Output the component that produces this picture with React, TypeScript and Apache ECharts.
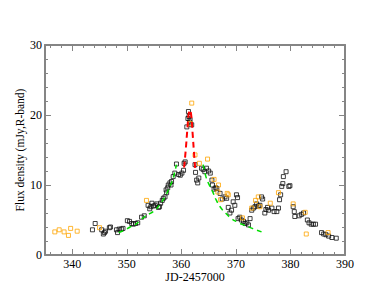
import React, { useEffect, useRef } from 'react';
import * as echarts from 'echarts';

const blackPoints: [number, number][] = [
  [343.7, 3.6], [344.2, 4.5], [345.4, 3.6], [345.7, 3.0], [345.9, 3.2], [346.1, 3.4], [346.8, 3.9], [347.0, 4.0],
  [348.1, 3.6], [348.3, 3.2], [348.6, 3.7], [349.0, 3.7], [349.3, 3.8],
  [350.1, 4.9], [350.5, 4.8], [350.9, 4.5], [351.2, 4.4], [351.6, 4.5], [352.0, 4.6], [352.7, 5.4], [353.2, 5.6],
  [353.9, 7.1], [354.2, 6.6], [354.4, 6.9], [354.6, 7.4], [354.9, 7.0], [355.2, 7.1], [355.5, 7.3], [355.8, 6.8],
  [356.0, 6.9], [356.2, 7.4], [356.5, 7.8], [356.7, 8.1], [357.0, 8.3], [357.2, 9.3], [357.3, 8.9], [357.5, 9.6],
  [357.6, 10.0], [357.9, 10.3], [358.1, 10.0], [358.2, 10.5], [358.5, 11.2], [358.8, 11.7], [359.1, 13.0],
  [359.5, 11.5], [359.8, 11.4], [360.1, 11.7], [360.4, 12.1], [360.5, 13.1], [360.7, 13.3], [361.0, 18.3],
  [361.2, 19.5], [361.3, 20.5], [361.4, 19.8], [361.5, 19.0], [361.6, 19.3], [361.9, 18.6], [362.5, 12.9],
  [362.6, 11.8], [362.8, 10.7], [363.0, 10.3], [363.2, 11.0],
  [363.7, 12.4], [364.0, 12.2], [364.3, 11.9], [364.6, 12.4], [365.0, 12.0], [365.3, 11.7], [365.6, 10.7],
  [365.7, 10.0], [366.0, 9.4], [366.3, 9.6], [366.5, 9.5], [367.1, 8.8], [367.5, 8.0], [368.0, 8.3], [368.3, 8.1],
  [368.6, 6.8], [368.9, 6.0], [369.2, 6.4], [369.5, 7.6], [369.8, 7.1], [370.1, 8.6], [370.3, 8.2], [370.4, 5.2],
  [370.7, 5.4], [371.0, 5.0], [371.4, 4.8], [371.7, 4.5], [372.0, 4.6], [372.3, 4.3], [372.6, 5.2], [372.9, 6.4],
  [373.2, 6.7], [373.5, 6.9], [373.8, 7.3], [374.1, 7.0], [374.4, 7.1], [374.7, 8.3], [374.9, 8.0], [375.3, 6.0],
  [375.5, 6.5], [375.8, 6.8], [376.0, 6.4], [376.6, 6.7], [377.0, 6.2], [377.5, 6.2], [377.8, 6.7], [378.0, 7.9],
  [378.2, 8.6], [378.4, 9.8], [378.6, 10.2], [378.7, 11.2], [379.2, 11.9], [379.7, 9.8], [379.9, 9.9],
  [380.5, 6.9], [380.7, 6.2], [380.8, 5.5], [381.6, 5.6], [382.0, 5.8], [382.4, 6.0], [383.1, 5.0], [383.4, 4.6],
  [383.8, 4.4], [384.2, 4.4], [384.6, 4.4], [385.7, 3.2], [386.1, 3.0], [386.5, 2.9], [387.0, 2.7], [387.6, 2.5],
  [388.4, 2.4],
];

const orangePoints: [number, number][] = [
  [336.8, 3.3], [337.6, 3.6], [338.5, 3.3], [339.3, 2.8], [339.7, 3.8], [340.9, 3.4], [345.0, 3.9],
  [353.6, 7.8], [361.6, 18.8], [361.9, 21.7], [362.5, 14.3], [363.3, 13.1], [364.8, 13.7], [366.0, 10.8],
  [366.8, 10.0], [366.7, 9.0], [367.2, 7.9], [368.4, 8.8], [368.6, 8.6], [371.2, 5.3], [372.9, 6.7],
  [373.6, 7.8], [374.1, 8.3], [374.4, 6.9], [376.3, 7.4], [377.8, 8.9], [380.5, 7.3], [382.7, 6.1],
  [382.9, 3.0], [386.9, 3.2],
];

const greenRise: [number, number][] = [
  [348.5, 3.2], [349.7, 3.6], [350.6, 4.0], [351.5, 4.3], [352.4, 4.9], [353.3, 5.5], [354.2, 5.9],
  [355.2, 6.4], [356.1, 7.3], [357.0, 8.3], [357.9, 9.8], [358.5, 11.0], [359.1, 12.9],
];

const greenDecay: [number, number][] = [
  [364.0, 12.9], [364.5, 11.2], [365.0, 10.2], [365.6, 9.3], [366.3, 8.0], [367.1, 6.9], [368.1, 6.0],
  [369.2, 5.2], [370.3, 4.7], [371.4, 4.3], [373.0, 3.8], [374.7, 3.3],
];

const redPeak: [number, number][] = [
  [360.5, 12.5], [360.8, 15.0], [361.1, 18.0], [361.35, 20.2], [361.55, 20.7], [361.8, 20.0],
  [362.05, 17.5], [362.3, 14.8], [362.55, 12.2],
];

const xMajorTicks = [340, 350, 360, 370, 380, 390];
const xMinorTicks = [336, 338, 342, 344, 346, 348, 352, 354, 356, 358, 362, 364, 366, 368, 372, 374, 376, 378, 382, 384, 386, 388];

const xTitle = 'JD-2457000';
const yTitle = 'Flux density (mJy,R-band)';

export default function App() {
  const ref = useRef<HTMLDivElement>(null);
  useEffect(() => {
    const chart = echarts.init(ref.current!, null, { renderer: 'svg' });
    const font = '"Liberation Serif", "Times New Roman", serif';
    const axisColor = '#858585';
    const baseX = {
      type: 'value' as const,
      min: 335,
      max: 390,
      gridIndex: 0,
      splitLine: { show: false },
      axisLine: { show: true, onZero: false, lineStyle: { color: axisColor, width: 2 } },
    };
    const minorX = (pos: 'top' | 'bottom') => ({
      ...baseX,
      position: pos,
      axisLine: { show: false, onZero: false },
      axisLabel: { show: false },
      axisTick: { show: true, inside: true, length: 3, customValues: xMinorTicks, lineStyle: { color: axisColor, width: 1 } },
    });
    const majorX = (pos: 'top' | 'bottom', labels: boolean) => ({
      ...baseX,
      position: pos,
      axisTick: { show: true, inside: true, length: 6, customValues: xMajorTicks, lineStyle: { color: axisColor, width: 1 } },
      axisLabel: labels
        ? { show: true, customValues: xMajorTicks, color: '#000', fontFamily: font, fontSize: 12, margin: 3 }
        : { show: false },
      name: labels ? xTitle : '',
      nameLocation: 'middle' as const,
      nameGap: 16,
      nameMoveOverlap: false,
      nameTextStyle: { color: '#000', fontFamily: font, fontSize: 12 },
    });
    const yAxisBase = (pos: 'left' | 'right', labels: boolean) => ({
      type: 'value' as const,
      min: 0,
      max: 30,
      interval: 10,
      position: pos,
      splitLine: { show: false },
      minorSplitLine: { show: false },
      axisLine: { show: true, onZero: false, lineStyle: { color: axisColor, width: 2 } },
      axisTick: { show: true, inside: true, length: 6, lineStyle: { color: axisColor, width: 1 } },
      minorTick: { show: true, splitNumber: 5, length: 3, lineStyle: { color: axisColor, width: 1 } },
      axisLabel: labels ? { show: true, color: '#000', fontFamily: font, fontSize: 12, margin: 3 } : { show: false },
      name: labels ? yTitle : '',
      nameLocation: 'middle' as const,
      nameGap: 19,
      nameMoveOverlap: false,
      nameTextStyle: { color: '#000', fontFamily: font, fontSize: 11.5 },
    });
    chart.setOption({
      animation: false,
      backgroundColor: '#fff',
      grid: { left: 45, top: 45, width: 300, height: 210 },
      xAxis: [majorX('bottom', true), minorX('bottom'), majorX('top', false), minorX('top')],
      yAxis: [yAxisBase('left', true), yAxisBase('right', false)],
      series: [
        {
          type: 'scatter',
          data: blackPoints,
          symbol: 'rect',
          symbolSize: 4,
          itemStyle: { color: 'transparent', borderColor: '#111', borderWidth: 1 },
          silent: true,
        },
        {
          type: 'scatter',
          data: orangePoints,
          symbol: 'rect',
          symbolSize: 4,
          itemStyle: { color: 'transparent', borderColor: '#ffa500', borderWidth: 1 },
          silent: true,
        },
        {
          type: 'line',
          data: greenRise,
          showSymbol: false,
          smooth: true,
          lineStyle: { color: '#00dd00', width: 1.5, type: [5, 4] },
          silent: true,
        },
        {
          type: 'line',
          data: greenDecay,
          showSymbol: false,
          smooth: true,
          lineStyle: { color: '#00dd00', width: 1.5, type: [5, 4] },
          silent: true,
        },
        {
          type: 'line',
          data: redPeak,
          showSymbol: false,
          smooth: true,
          lineStyle: { color: '#ff0000', width: 2, type: [6, 4] },
          silent: true,
        },
      ],
    });
    return () => chart.dispose();
  }, []);
  return (
    <div
      ref={ref}
      style={{ position: 'fixed', left: 0, top: 0, width: 388, height: 300, background: '#fff' }}
    />
  );
}
